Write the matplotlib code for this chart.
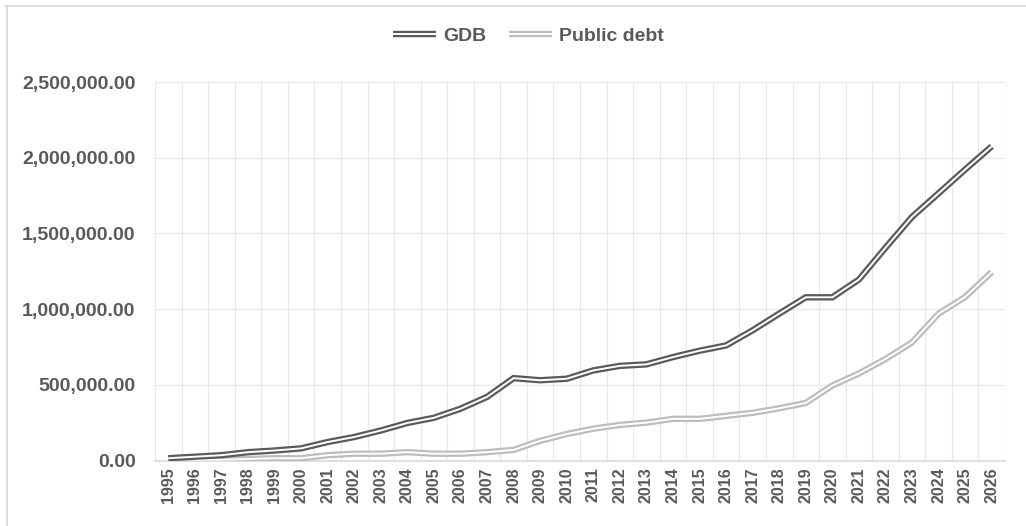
import matplotlib
matplotlib.use("Agg")
import matplotlib.pyplot as plt
import matplotlib.patheffects as pe
from matplotlib.lines import Line2D
from matplotlib.ticker import FuncFormatter, MultipleLocator, FixedLocator

years = [str(y) for y in range(1995, 2027)]
gdb = [15000, 25000, 35000, 55000, 66000, 80000, 122000, 155000, 198000, 248000,
       282000, 342000, 420000, 544000, 530000, 540000, 595000, 625000, 635000, 683000,
       725000, 760000, 860000, 970000, 1078000, 1078000, 1195000, 1405000, 1609000, 1765000,
       1922000, 2075000]
debt = [8000, 5000, 5000, 10000, 15000, 15000, 35000, 45000, 45000, 55000,
        45000, 45000, 55000, 70000, 130000, 175000, 210000, 235000, 250000, 275000,
        275000, 295000, 315000, 345000, 380000, 495000, 575000, 670000, 780000, 970000,
        1080000, 1245000]
series_names = ["GDB", "Public debt"]

TXT = "#595959"
FONT = "Liberation Sans"

fig = plt.figure(figsize=(10.26, 5.26), dpi=100)
ax = fig.add_axes([155/1026, 1 - 460.5/526, 850/1026, (460.5 - 82)/526])

x = list(range(len(years)))

def double(color):
    return [pe.Stroke(linewidth=4.6, foreground=color), pe.Stroke(linewidth=1.4, foreground="white")]

ax.plot(x, gdb, color="#5a5a5a", lw=4.6, label=series_names[0],
        path_effects=double("#5a5a5a"), solid_joinstyle="miter", solid_capstyle="butt", zorder=4)
ax.plot(x, debt, color="#bdbdbd", lw=4.6, label=series_names[1],
        path_effects=double("#bdbdbd"), solid_joinstyle="miter", solid_capstyle="butt", zorder=3)

ax.set_xlim(-0.5, len(years) - 0.5)
ax.set_ylim(0, 2500000)
ax.yaxis.set_major_locator(MultipleLocator(500000))
ax.yaxis.set_major_formatter(FuncFormatter(lambda v, p: f"{v:,.2f}"))
ax.set_xticks(x)
ax.set_xticklabels(years, rotation=90)
ax.xaxis.set_minor_locator(FixedLocator([i - 0.5 for i in range(len(years) + 1)]))

ax.grid(True, which="major", axis="y", color="#e8e8e8", lw=0.9)
ax.grid(True, which="minor", axis="x", color="#e8e8e8", lw=0.9)
ax.set_axisbelow(True)
for s in ["top", "right", "left"]:
    ax.spines[s].set_visible(False)
ax.spines["bottom"].set_color("#d9d9d9")
ax.spines["bottom"].set_linewidth(1.2)

ax.tick_params(axis="both", which="both", length=0)
ax.tick_params(axis="y", pad=14)
ax.tick_params(axis="x", pad=5)
for lab in ax.get_yticklabels():
    lab.set_fontfamily(FONT); lab.set_fontweight("bold"); lab.set_fontsize(14); lab.set_color(TXT)
for lab in ax.get_xticklabels():
    lab.set_fontfamily(FONT); lab.set_fontweight("bold"); lab.set_fontsize(11.5); lab.set_color(TXT)

leg = fig.legend(loc="center", bbox_to_anchor=(0.515, 1 - 36/526), ncol=2, frameon=False,
                 handlelength=2.2, columnspacing=1.2, handletextpad=0.35,
                 prop={"family": FONT, "weight": "bold", "size": 14})
for t in leg.get_texts():
    t.set_color(TXT)

# chart border (top and left visible)
fig.add_artist(Line2D([6/1026, 1], [1 - 6/526, 1 - 6/526], transform=fig.transFigure, color="#d9d9d9", lw=1.3))
fig.add_artist(Line2D([6.5/1026, 6.5/1026], [0, 1 - 6/526], transform=fig.transFigure, color="#d9d9d9", lw=1.3))

fig.savefig("out.png", dpi=100)
